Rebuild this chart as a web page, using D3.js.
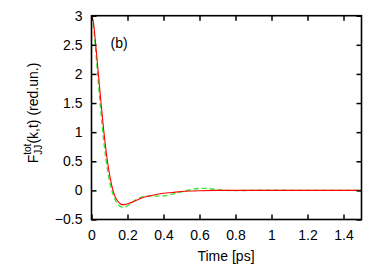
<!DOCTYPE html>
<html>
<head>
<meta charset="utf-8">
<script src="https://cdn.jsdelivr.net/npm/d3@7"></script>
<style>
  body { margin: 0; background: #fff; }
  text { font-family: "Liberation Sans", Arial, sans-serif; fill: #000; }
</style>
</head>
<body>
<div id="chart"></div>
<script>
// time axis samples (ps)
const redTime = [0, 0.01, 0.02, 0.03, 0.04, 0.05, 0.06, 0.07, 0.08, 0.09, 0.10, 0.11, 0.12, 0.13, 0.14, 0.15, 0.16, 0.17, 0.18, 0.19, 0.20, 0.22, 0.25, 0.28, 0.30, 0.33, 0.36, 0.40, 0.45, 0.50, 0.55, 0.60, 0.70, 0.80, 1.0, 1.2, 1.5];
const redValues = [3.0, 2.90, 2.62, 2.28, 1.94, 1.60, 1.28, 0.97, 0.70, 0.47, 0.28, 0.12, -0.01, -0.10, -0.16, -0.20, -0.23, -0.245, -0.245, -0.24, -0.23, -0.21, -0.17, -0.13, -0.11, -0.09, -0.07, -0.05, -0.035, -0.02, -0.01, -0.005, 0, 0, 0, 0, 0];

const greenTime = [0, 0.01, 0.02, 0.03, 0.04, 0.05, 0.06, 0.07, 0.08, 0.09, 0.10, 0.11, 0.12, 0.13, 0.14, 0.15, 0.16, 0.17, 0.18, 0.19, 0.20, 0.22, 0.25, 0.28, 0.30, 0.33, 0.36, 0.40, 0.43, 0.46, 0.50, 0.54, 0.58, 0.62, 0.66, 0.70, 0.75, 0.80, 0.90, 1.0, 1.2, 1.5];
const greenValues = [3.0, 2.85, 2.52, 2.15, 1.78, 1.42, 1.09, 0.79, 0.54, 0.33, 0.16, 0.03, -0.07, -0.15, -0.21, -0.25, -0.275, -0.29, -0.295, -0.285, -0.265, -0.22, -0.155, -0.115, -0.10, -0.095, -0.10, -0.095, -0.08, -0.055, -0.025, 0.005, 0.028, 0.035, 0.028, 0.012, 0, -0.004, 0, 0.003, 0, 0];

const xTicks = [0, 0.2, 0.4, 0.6, 0.8, 1, 1.2, 1.4];
const yTicks = [-0.5, 0, 0.5, 1, 1.5, 2, 2.5, 3];

const w = 374, h = 267;
const margin = { top: 15.7, bottom: 47.5, left: 91.5, right: 12.5 };
const width = w - margin.left - margin.right;
const height = h - margin.top - margin.bottom;
const fontSize = "14px";

const x = d3.scaleLinear().domain([0, 1.5]).range([0, width]);
const y = d3.scaleLinear().domain([-0.5, 3]).range([height, 0]);

const svg = d3.select("#chart").append("svg")
  .attr("width", w)
  .attr("height", h);

const chart = svg.append("g")
  .attr("transform", "translate(" + margin.left + "," + margin.top + ")");

// clip so curves stay in frame
chart.append("clipPath").attr("id", "clip")
  .append("rect").attr("width", width).attr("height", height);

const line = d3.line()
  .x(d => x(d[0]))
  .y(d => y(d[1]))
  .curve(d3.curveMonotoneX);

const plotArea = chart.append("g").attr("clip-path", "url(#clip)");

plotArea.append("path")
  .datum(greenTime.map((t, i) => [t, greenValues[i]]))
  .attr("d", line)
  .attr("fill", "none")
  .attr("stroke", "#2ee82e")
  .attr("stroke-width", 1.3)
  .attr("stroke-dasharray", "5,3");

plotArea.append("path")
  .datum(redTime.map((t, i) => [t, redValues[i]]))
  .attr("d", line)
  .attr("fill", "none")
  .attr("stroke", "#ff0000")
  .attr("stroke-width", 1.1);

// axes, ticks pointing inwards on all four sides
const tickLen = 5;
const axBottom = chart.append("g")
  .attr("transform", "translate(0," + height + ")")
  .call(d3.axisBottom(x).tickValues(xTicks).tickSizeInner(-tickLen).tickSizeOuter(0).tickPadding(11).tickFormat(d3.format("")));
const axTop = chart.append("g")
  .call(d3.axisTop(x).tickValues(xTicks).tickSizeInner(-tickLen).tickSizeOuter(0).tickFormat(""));
const axLeft = chart.append("g")
  .call(d3.axisLeft(y).tickValues(yTicks).tickSizeInner(-tickLen).tickSizeOuter(0).tickPadding(9).tickFormat(d3.format("")));
const axRight = chart.append("g")
  .attr("transform", "translate(" + width + ",0)")
  .call(d3.axisRight(y).tickValues(yTicks).tickSizeInner(-tickLen).tickSizeOuter(0).tickFormat(""));

[axBottom, axTop, axLeft, axRight].forEach(g => {
  g.select(".domain").remove();
  g.selectAll(".tick line").attr("stroke", "#000").attr("stroke-width", 1.5);
  g.selectAll("text").style("font-size", fontSize).style("font-family", "'Liberation Sans', Arial, sans-serif");
});

chart.append("rect")
  .attr("width", width)
  .attr("height", height)
  .attr("fill", "none")
  .attr("stroke", "#000")
  .attr("stroke-width", 1.6);

// panel tag
chart.append("text")
  .attr("x", 19)
  .attr("y", 32.8)
  .style("font-size", fontSize)
  .text("(b)");

// x label
svg.append("text")
  .attr("x", margin.left + width / 2 - 0.5)
  .attr("y", 260.5)
  .attr("text-anchor", "middle")
  .style("font-size", fontSize)
  .text("Time [ps]");

// y label: F with stacked super/subscript
const ylab = svg.append("g")
  .attr("transform", "translate(38,113) rotate(-90)");
const lab = ylab.append("text").style("font-size", fontSize);
lab.append("tspan").text("F");
const sup = lab.append("tspan").attr("dy", -7).style("font-size", "10px").text("tot");
const sub = lab.append("tspan").attr("dy", 11).style("font-size", "10px").text("JJ");
const rest = lab.append("tspan").attr("dy", -4).text("(k,t) (red.un.)");
const supW = sup.node().getComputedTextLength();
const subW = sub.node().getComputedTextLength();
sub.attr("dx", -supW);
rest.attr("dx", Math.max(0, supW - subW));
const bw = lab.node().getBBox().width;
lab.attr("x", -bw / 2);
</script>
</body>
</html>
